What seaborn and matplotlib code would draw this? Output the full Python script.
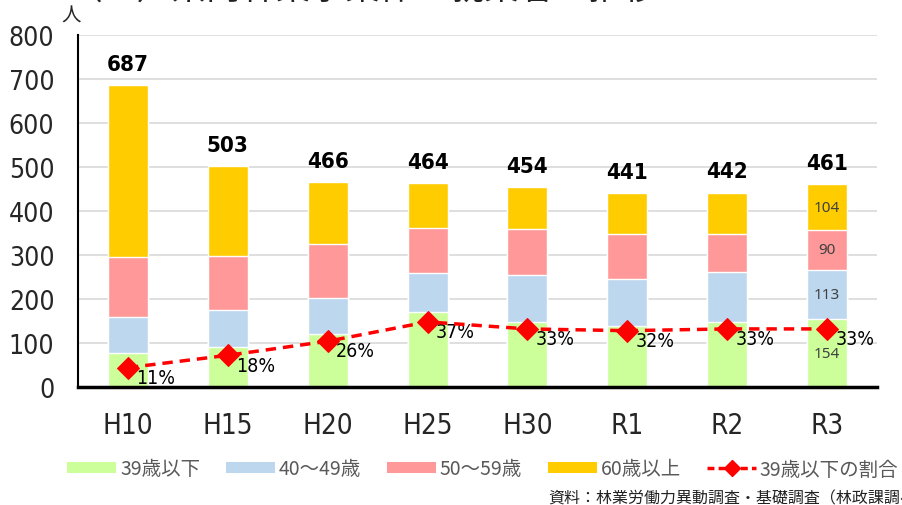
import numpy as np
import pandas as pd
import seaborn as sns
import matplotlib
matplotlib.use("Agg")
import matplotlib.pyplot as plt
from matplotlib.patches import Patch
from matplotlib.lines import Line2D

categories = ["H10", "H15", "H20", "H25", "H30", "R1", "R2", "R3"]
age_39 = [78, 90, 121, 170, 148, 139, 148, 154]
age_40_49 = [82, 85, 81, 90, 107, 106, 113, 113]
age_50_59 = [135, 122, 123, 102, 104, 103, 87, 90]
age_60 = [392, 206, 141, 102, 95, 93, 94, 104]
totals = [687, 503, 466, 464, 454, 441, 442, 461]
ratio = [0.11, 0.18, 0.26, 0.37, 0.33, 0.32, 0.33, 0.33]
ratio_labels = ["11%", "18%", "26%", "37%", "33%", "32%", "33%", "33%"]
series_names = ["39歳以下", "40～49歳", "50～59歳", "60歳以上"]
line_name = "39歳以下の割合"

colors = ["#CCFF99", "#BDD7EE", "#FF9999", "#FFCC00"]

sns.set_style("white")
NUM = ["DejaVu Sans"]
JP = ["Noto Sans CJK JP", "DejaVu Sans"]
plt.rcParams["font.family"] = NUM
plt.rcParams["font.stretch"] = "condensed"

fig = plt.figure(figsize=(9.03, 5.06), dpi=100)
ax = fig.add_axes([78 / 903, 1 - 388 / 506, (877 - 78) / 903, (388 - 36) / 506])

layers = [age_39, age_40_49, age_50_59, age_60]
cum = np.cumsum(np.array(layers), axis=0)
df = pd.DataFrame({"cat": categories})
for i in range(3, -1, -1):
    df["v"] = cum[i]
    sns.barplot(data=df, x="cat", y="v", color=colors[i], width=0.4,
                saturation=1, ax=ax, zorder=2)

ax.set_ylim(0, 800)
ax.set_xlim(-0.5, 7.5)
ax.set_yticks(range(0, 801, 100))
ax.set_axisbelow(True)
ax.yaxis.grid(True, color="#D9D9D9", lw=1.2)
ax.set_xlabel("")
ax.set_ylabel("")
for s in ["top", "right"]:
    ax.spines[s].set_visible(False)
ax.spines["left"].set_color("black")
ax.spines["left"].set_linewidth(1.5)
ax.spines["bottom"].set_color("black")
ax.spines["bottom"].set_linewidth(2.5)
ax.tick_params(axis="y", length=0, pad=17, labelsize=19)
ax.tick_params(axis="x", length=0, pad=17, labelsize=20)
for t in ax.get_yticklabels() + ax.get_xticklabels():
    t.set_fontstretch("condensed")

# totals
for i, t in enumerate(totals):
    ax.annotate(str(t), (i, t), xytext=(0, 8), textcoords="offset points",
                ha="center", va="bottom", fontsize=16, fontweight="bold",
                fontstretch="condensed", color="black")

# R3 segment labels
bottoms = np.vstack([np.zeros(len(categories)), cum[:-1]])
for j in range(4):
    y = bottoms[j][7] + layers[j][7] / 2
    ax.text(7, y, str(layers[j][7]), ha="center", va="center", fontsize=11,
            color="#404040", family=["Noto Sans", "DejaVu Sans"], zorder=5)

# ratio line on hidden secondary axis
ax2 = ax.twinx()
sns.lineplot(x=np.arange(len(categories)), y=ratio, ax=ax2, color="#FF0000",
             lw=2.5, linestyle=(0, (3, 2)), marker="D", markersize=11,
             markeredgecolor="#FF0000", zorder=6)
ax2.set_ylim(0, 2.0)
ax2.set_xlim(-0.5, 7.5)
ax2.set_yticks([])
ax2.set_ylabel("")
for s in ax2.spines.values():
    s.set_visible(False)
for i, (r, lab) in enumerate(zip(ratio, ratio_labels)):
    ax2.annotate(lab, (i, r), xytext=(6, -7), textcoords="offset points",
                 ha="left", va="center", fontsize=14, fontstretch="condensed",
                 color="black")

# unit and clipped title
fig.text(61 / 903, 1 - 16 / 506, "人", fontsize=14, family=JP, ha="left",
         va="center")
fig.text(68 / 903, 1 - 8 / 506, "（２）県内林業事業体の就業者の推移", fontsize=25,
         family=JP, ha="left", va="bottom", color="#222222")

# legend
handles = [Patch(facecolor=c, edgecolor="none") for c in colors]
handles.append(Line2D([0], [0], color="#FF0000", lw=2.5, linestyle=(0, (2, 1.2)),
                      marker="D", markersize=8))
leg = fig.legend(handles, series_names + [line_name], loc="center",
                 bbox_to_anchor=(483 / 903, 1 - 470 / 506), ncol=5, frameon=False,
                 prop={"family": JP, "size": 14}, handlelength=2.5,
                 handleheight=0.5, columnspacing=1.35, handletextpad=0.2)
for t in leg.get_texts():
    t.set_color("#595959")

fig.text(548 / 903, 1 - 499 / 506, "資料：林業労働力異動調査・基礎調査（林政課調べ）",
         fontsize=11.5, family=JP, ha="left", va="center", color="#222222")

fig.savefig("out.png", dpi=100)
